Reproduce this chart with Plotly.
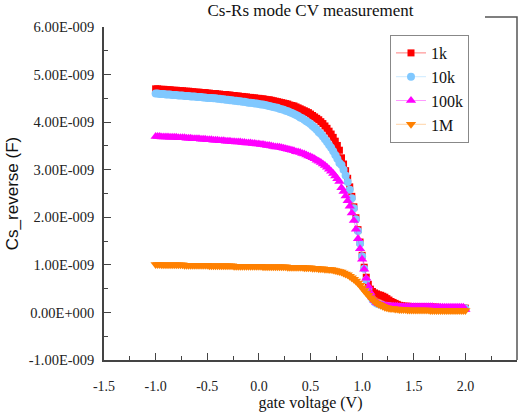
import plotly.graph_objects as go

# Gate-voltage sweep: -1.00 V to 2.00 V in 0.02 V steps
V_START, V_STEP, N_POINTS = -1.0, 0.02, 151
gate_voltage = [round(V_START + V_STEP * i, 2) for i in range(N_POINTS)]

# Series capacitance Cs (nF) at each test frequency
cs_1k = [
    4.70, 4.70, 4.69, 4.69, 4.69, 4.68, 4.68, 4.68, 4.67, 4.67,
    4.67, 4.66, 4.66, 4.66, 4.65, 4.65, 4.65, 4.64, 4.64, 4.63,
    4.63, 4.63, 4.62, 4.62, 4.62, 4.61, 4.61, 4.60, 4.60, 4.60,
    4.59, 4.59, 4.58, 4.58, 4.58, 4.57, 4.57, 4.56, 4.56, 4.55,
    4.55, 4.54, 4.54, 4.53, 4.53, 4.52, 4.52, 4.51, 4.51, 4.50,
    4.50, 4.49, 4.49, 4.48, 4.47, 4.47, 4.46, 4.45, 4.44, 4.43,
    4.42, 4.41, 4.40, 4.39, 4.38, 4.36, 4.35, 4.34, 4.32, 4.30,
    4.28, 4.26, 4.24, 4.22, 4.20, 4.17, 4.14, 4.11, 4.08, 4.05,
    4.01, 3.97, 3.92, 3.87, 3.81, 3.75, 3.68, 3.60, 3.51, 3.41,
    3.25, 3.12, 2.98, 2.82, 2.64, 2.44, 2.22, 1.99, 1.74, 1.48,
    1.20, 0.95, 0.74, 0.59, 0.49, 0.44, 0.41, 0.39, 0.37, 0.36,
    0.34, 0.32, 0.29, 0.26, 0.23, 0.21, 0.19, 0.17, 0.15, 0.14,
    0.13, 0.13, 0.13, 0.12, 0.12, 0.12, 0.12, 0.12, 0.12, 0.12,
    0.11, 0.11, 0.11, 0.11, 0.11, 0.11, 0.11, 0.10, 0.10, 0.10,
    0.10, 0.10, 0.10, 0.10, 0.10, 0.10, 0.09, 0.09, 0.09, 0.09,
    0.09,
]
cs_10k = [
    4.60, 4.60, 4.59, 4.59, 4.59, 4.58, 4.58, 4.58, 4.57, 4.57,
    4.57, 4.56, 4.56, 4.56, 4.55, 4.55, 4.55, 4.54, 4.54, 4.54,
    4.53, 4.53, 4.53, 4.52, 4.52, 4.51, 4.51, 4.51, 4.50, 4.50,
    4.49, 4.49, 4.48, 4.48, 4.47, 4.47, 4.46, 4.46, 4.45, 4.45,
    4.44, 4.44, 4.43, 4.43, 4.42, 4.41, 4.41, 4.40, 4.39, 4.39,
    4.38, 4.37, 4.37, 4.36, 4.35, 4.34, 4.33, 4.32, 4.31, 4.30,
    4.28, 4.27, 4.26, 4.24, 4.23, 4.21, 4.19, 4.17, 4.15, 4.13,
    4.10, 4.08, 4.05, 4.02, 3.99, 3.96, 3.92, 3.88, 3.84, 3.79,
    3.75, 3.70, 3.64, 3.58, 3.52, 3.46, 3.39, 3.31, 3.23, 3.14,
    3.10, 3.00, 2.88, 2.74, 2.58, 2.40, 2.19, 1.96, 1.71, 1.45,
    1.18, 0.92, 0.68, 0.48, 0.35, 0.27, 0.22, 0.19, 0.17, 0.16,
    0.15, 0.14, 0.13, 0.13, 0.12, 0.12, 0.11, 0.11, 0.11, 0.11,
    0.10, 0.10, 0.10, 0.10, 0.10, 0.10, 0.10, 0.10, 0.10, 0.10,
    0.09, 0.09, 0.09, 0.09, 0.09, 0.09, 0.09, 0.09, 0.09, 0.09,
    0.09, 0.09, 0.08, 0.08, 0.08, 0.08, 0.08, 0.08, 0.08, 0.08,
    0.08,
]
cs_100k = [
    3.70, 3.70, 3.70, 3.69, 3.69, 3.69, 3.69, 3.68, 3.68, 3.68,
    3.68, 3.67, 3.67, 3.67, 3.67, 3.66, 3.66, 3.66, 3.65, 3.65,
    3.65, 3.65, 3.64, 3.64, 3.64, 3.63, 3.63, 3.63, 3.62, 3.62,
    3.62, 3.61, 3.61, 3.61, 3.60, 3.60, 3.60, 3.59, 3.59, 3.58,
    3.58, 3.58, 3.57, 3.57, 3.56, 3.56, 3.56, 3.55, 3.55, 3.54,
    3.54, 3.53, 3.53, 3.52, 3.51, 3.51, 3.50, 3.49, 3.48, 3.48,
    3.47, 3.46, 3.45, 3.44, 3.43, 3.42, 3.41, 3.40, 3.38, 3.37,
    3.36, 3.34, 3.33, 3.31, 3.29, 3.27, 3.25, 3.23, 3.20, 3.18,
    3.15, 3.12, 3.09, 3.05, 3.01, 2.97, 2.92, 2.87, 2.81, 2.75,
    2.62, 2.54, 2.45, 2.35, 2.23, 2.09, 1.93, 1.75, 1.55, 1.34,
    1.12, 0.91, 0.72, 0.55, 0.42, 0.32, 0.25, 0.21, 0.18, 0.16,
    0.15, 0.14, 0.14, 0.13, 0.13, 0.13, 0.13, 0.13, 0.12, 0.12,
    0.12, 0.12, 0.12, 0.12, 0.12, 0.12, 0.12, 0.12, 0.12, 0.12,
    0.12, 0.12, 0.12, 0.12, 0.12, 0.11, 0.11, 0.11, 0.11, 0.11,
    0.11, 0.11, 0.11, 0.11, 0.11, 0.11, 0.11, 0.11, 0.11, 0.11,
    0.06,
]
cs_1m = [
    1.01, 1.01, 1.01, 1.00, 1.00, 1.00, 1.00, 1.00, 1.00, 1.00,
    1.00, 1.00, 1.00, 1.00, 0.99, 0.99, 0.99, 0.99, 0.99, 0.99,
    0.99, 0.99, 0.99, 0.99, 0.99, 0.99, 0.98, 0.98, 0.98, 0.98,
    0.98, 0.98, 0.98, 0.98, 0.98, 0.98, 0.98, 0.98, 0.97, 0.97,
    0.97, 0.97, 0.97, 0.97, 0.97, 0.97, 0.97, 0.97, 0.97, 0.97,
    0.97, 0.97, 0.96, 0.96, 0.96, 0.96, 0.96, 0.96, 0.96, 0.96,
    0.96, 0.96, 0.96, 0.96, 0.95, 0.95, 0.95, 0.95, 0.95, 0.95,
    0.95, 0.95, 0.94, 0.94, 0.94, 0.94, 0.93, 0.93, 0.93, 0.92,
    0.92, 0.92, 0.91, 0.91, 0.90, 0.90, 0.89, 0.88, 0.87, 0.86,
    0.85, 0.83, 0.81, 0.79, 0.76, 0.73, 0.70, 0.66, 0.62, 0.57,
    0.52, 0.46, 0.41, 0.36, 0.31, 0.27, 0.23, 0.20, 0.17, 0.15,
    0.13, 0.11, 0.10, 0.09, 0.08, 0.08, 0.07, 0.07, 0.06, 0.06,
    0.06, 0.06, 0.05, 0.05, 0.05, 0.05, 0.05, 0.05, 0.05, 0.05,
    0.05, 0.05, 0.05, 0.04, 0.04, 0.04, 0.04, 0.04, 0.04, 0.04,
    0.04, 0.04, 0.04, 0.04, 0.04, 0.04, 0.04, 0.04, 0.04, 0.04,
    0.04,
]

NANO = 1e-9
series_names = ["1k", "10k", "100k", "1M"]
series_values = [cs_1k, cs_10k, cs_100k, cs_1m]
marker_colors = ["#FF0000", "#80C8FF", "#FF00FF", "#FF8000"]
line_colors = ["rgba(255,0,0,0.5)", "rgba(128,200,255,0.4)",
               "rgba(255,0,255,0.4)", "rgba(255,128,0,0.35)"]
marker_symbols = ["square", "circle", "triangle-up", "triangle-down"]
marker_sizes = [7, 8, 9, 9]

y_tick_vals = [-1, 0, 1, 2, 3, 4, 5, 6]
y_tick_text = ["-1.00E-009", "0.00E+000", "1.00E-009", "2.00E-009",
               "3.00E-009", "4.00E-009", "5.00E-009", "6.00E-009"]
x_tick_vals = [-1.5, -1.0, -0.5, 0.0, 0.5, 1.0, 1.5, 2.0, 2.5]
x_tick_text = ["-1.5", "-1.0", "-0.5", "0.0", "0.5", "1.0", "1.5", "2.0", "2.5"]

SERIF = "Liberation Serif"
SANS = "Liberation Sans"
AXIS_COLOR = "#444444"

fig = go.Figure()
for name, vals, mc, lc, sym, ms in zip(series_names, series_values, marker_colors,
                                       line_colors, marker_symbols, marker_sizes):
    fig.add_trace(go.Scatter(
        x=gate_voltage,
        y=[v * NANO for v in vals],
        name=name,
        mode="lines+markers",
        line=dict(color=lc, width=1),
        marker=dict(symbol=sym, size=ms, color=mc, line=dict(width=0)),
    ))

fig.update_layout(
    width=522,
    height=419,
    margin=dict(l=104, r=5, t=27, b=59),
    paper_bgcolor="white",
    plot_bgcolor="white",
    font=dict(family=SERIF, color="#222222"),
    title=dict(
        text="Cs-Rs mode CV measurement",
        font=dict(family=SERIF, size=17, color="#111111"),
        x=(104 + 517) / 2 / 522, xanchor="center",
        y=1 - 10 / 419, yanchor="middle", yref="container",
    ),
    xaxis=dict(
        range=[-1.5, 2.5],
        tickvals=x_tick_vals,
        ticktext=x_tick_text,
        ticks="inside", ticklen=7, tickwidth=1.2, tickcolor=AXIS_COLOR,
        minor=dict(dtick=0.25, ticks="inside", ticklen=4, tickwidth=1.2,
                   tickcolor=AXIS_COLOR, showgrid=False),
        showline=True, linecolor=AXIS_COLOR, linewidth=1.5,
        showgrid=False, zeroline=False,
        tickfont=dict(family=SERIF, size=14, color="#222222"),
        ticklabelstandoff=12,
        title=dict(text="gate voltage (V)",
                   font=dict(family=SERIF, size=16, color="#111111"),
                   standoff=2),
    ),
    yaxis=dict(
        range=[-1 * NANO, 6 * NANO],
        tickvals=[v * NANO for v in y_tick_vals],
        ticktext=y_tick_text,
        ticks="inside", ticklen=7, tickwidth=1.2, tickcolor=AXIS_COLOR,
        minor=dict(dtick=0.5 * NANO, ticks="inside", ticklen=4, tickwidth=1.2,
                   tickcolor=AXIS_COLOR, showgrid=False),
        showline=True, linecolor=AXIS_COLOR, linewidth=1.5,
        showgrid=False, zeroline=False,
        tickfont=dict(family=SERIF, size=14.5, color="#222222"),
        ticklabelstandoff=5,
        title=dict(text="Cs_reverse (F)",
                   font=dict(family=SANS, size=17, color="#111111"),
                   standoff=6),
    ),
    legend=dict(
        x=(390 - 104) / 413, xanchor="left",
        y=(360 - 35) / 333, yanchor="top",
        bgcolor="white",
        bordercolor="#888888", borderwidth=1,
        font=dict(family=SERIF, size=16, color="#111111"),
        itemwidth=30,
        tracegroupgap=0,
    ),
    showlegend=True,
)

# outer frame segment on the upper-right corner
fig.add_shape(
    type="path",
    xref="paper", yref="paper",
    path="M 0.9225 1.03 L 1.0 1.03 L 1.0 0",
    line=dict(color="#555555", width=1.5),
)

fig.write_html("out.html")
